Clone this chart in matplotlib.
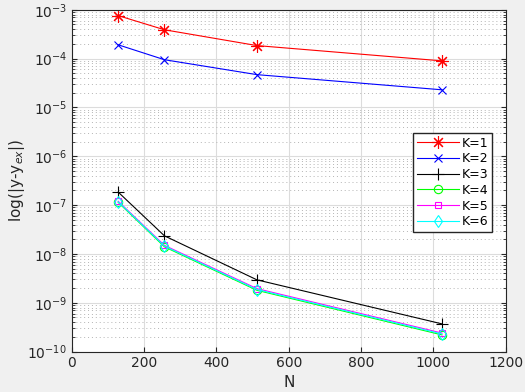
import matplotlib.pyplot as plt
import numpy as np

# data
N = np.array([128, 256, 512, 1024])
err = {
    'K=1': [7.6e-4, 3.9e-4, 1.85e-4, 9.0e-5],
    'K=2': [1.92e-4, 9.5e-5, 4.7e-5, 2.3e-5],
    'K=3': [1.85e-7, 2.35e-8, 2.95e-9, 3.7e-10],
    'K=4': [1.14e-7, 1.40e-8, 1.80e-9, 2.2e-10],
    'K=5': [1.20e-7, 1.50e-8, 1.95e-9, 2.4e-10],
    'K=6': [1.17e-7, 1.45e-8, 1.87e-9, 2.3e-10],
}
colors = ['red', 'blue', 'black', '#00ff00', 'magenta', 'cyan']
markers = [(8, 2, 0), 'x', '+', 'o', 's', 'd']
sizes = [9, 6, 9, 6, 5, 6]

fig = plt.figure(figsize=(5.25, 3.92), dpi=100, facecolor='#f0f0f0')
ax = fig.add_axes([0.137, 0.103, 0.826, 0.872])

for (lab, y), c, m, ms in zip(err.items(), colors, markers, sizes):
    ax.semilogy(N, y, color=c, marker=m, markerfacecolor='none',
                markersize=ms, markeredgewidth=0.8, linewidth=0.8, label=lab)

ax.set_xlim(0, 1200)
ax.set_ylim(1e-10, 1e-3)
ax.set_xticks(np.arange(0, 1201, 200))
ax.grid(True, which='major', color='#dcdcdc', linewidth=0.8)
ax.grid(True, which='minor', axis='y', color='#b4b4b4', linestyle=(0, (1, 3)), linewidth=0.7)
ax.set_axisbelow(True)
ax.tick_params(direction='in', which='both', top=False, right=True, labelsize=10, colors='#262626')
for s in ax.spines.values():
    s.set_color('#262626')
ax.set_xlabel('N', fontsize=11, color='#262626', labelpad=3)
ax.set_ylabel('log(|y-y$_{ex}$|)', fontsize=11, color='#262626', labelpad=0)

leg = ax.legend(loc='upper left', bbox_to_anchor=(0.786, 0.64), fontsize=9,
                fancybox=False, framealpha=1, edgecolor='#262626',
                handlelength=3.4, borderpad=0.3, labelspacing=0.22,
                handletextpad=0.2, borderaxespad=0)

plt.savefig('out.png', dpi=100, facecolor=fig.get_facecolor())
